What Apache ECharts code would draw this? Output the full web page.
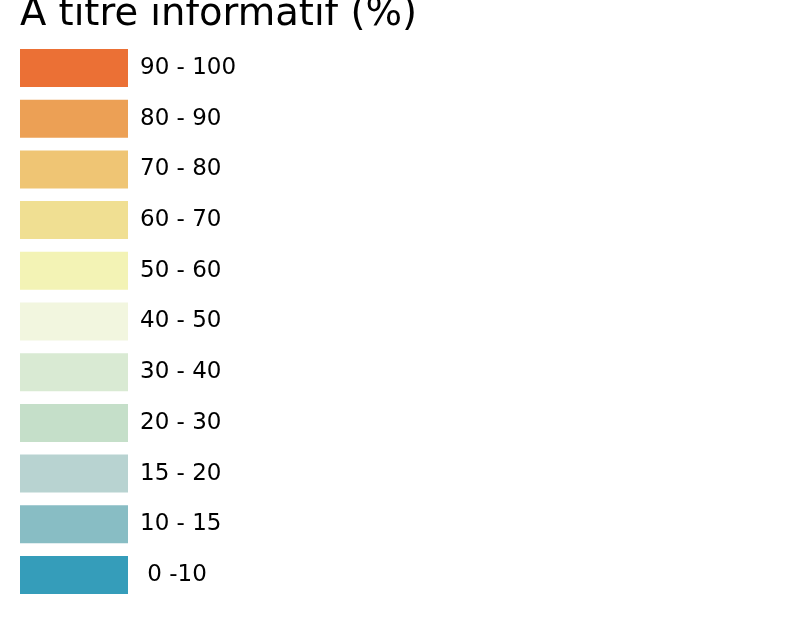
<!DOCTYPE html>
<html><head><meta charset="utf-8">
<script src="https://cdn.jsdelivr.net/npm/echarts@6/dist/echarts.min.js"></script>
<style>html,body{margin:0;padding:0;background:#fff}#c{width:810px;height:637px}</style>
</head><body><div id="c"></div>
<script>
const titleText = 'A titre informatif (%)';
const categories = ['90 - 100','80 - 90','70 - 80','60 - 70','50 - 60','40 - 50','30 - 40','20 - 30','15 - 20','10 - 15',' 0 -10'];
const colors = ['#EB7035','#ECA055','#EFC574','#F0DF92','#F3F3B5','#F2F6DF','#D9EAD3','#C5DFC9','#B8D3D1','#88BDC4','#359DBA'];

const chart = echarts.init(document.getElementById('c'));
chart.setOption({
  animation:false,
  backgroundColor:'#fff',
  title:{text:titleText,left:20,top:-5,padding:0,textStyle:{fontFamily:'DejaVu Sans',fontWeight:'normal',fontSize:38.5,color:'#000'}},
  grid:{show:false},
  xAxis:{show:false,type:'category',data:['a']},
  yAxis:{show:false,type:'value'},
  legend:{
    orient:'vertical',left:20,top:49,padding:0,itemWidth:108,itemHeight:38,itemGap:12.7,
    icon:'rect',selectedMode:false,
    textStyle:{fontFamily:'DejaVu Sans',fontSize:23,color:'#000',padding:[3,0,0,7]},
    data:categories
  },
  series:categories.map((c,i)=>({name:c,type:'bar',data:[],itemStyle:{color:colors[i]}}))
});
</script></body></html>
